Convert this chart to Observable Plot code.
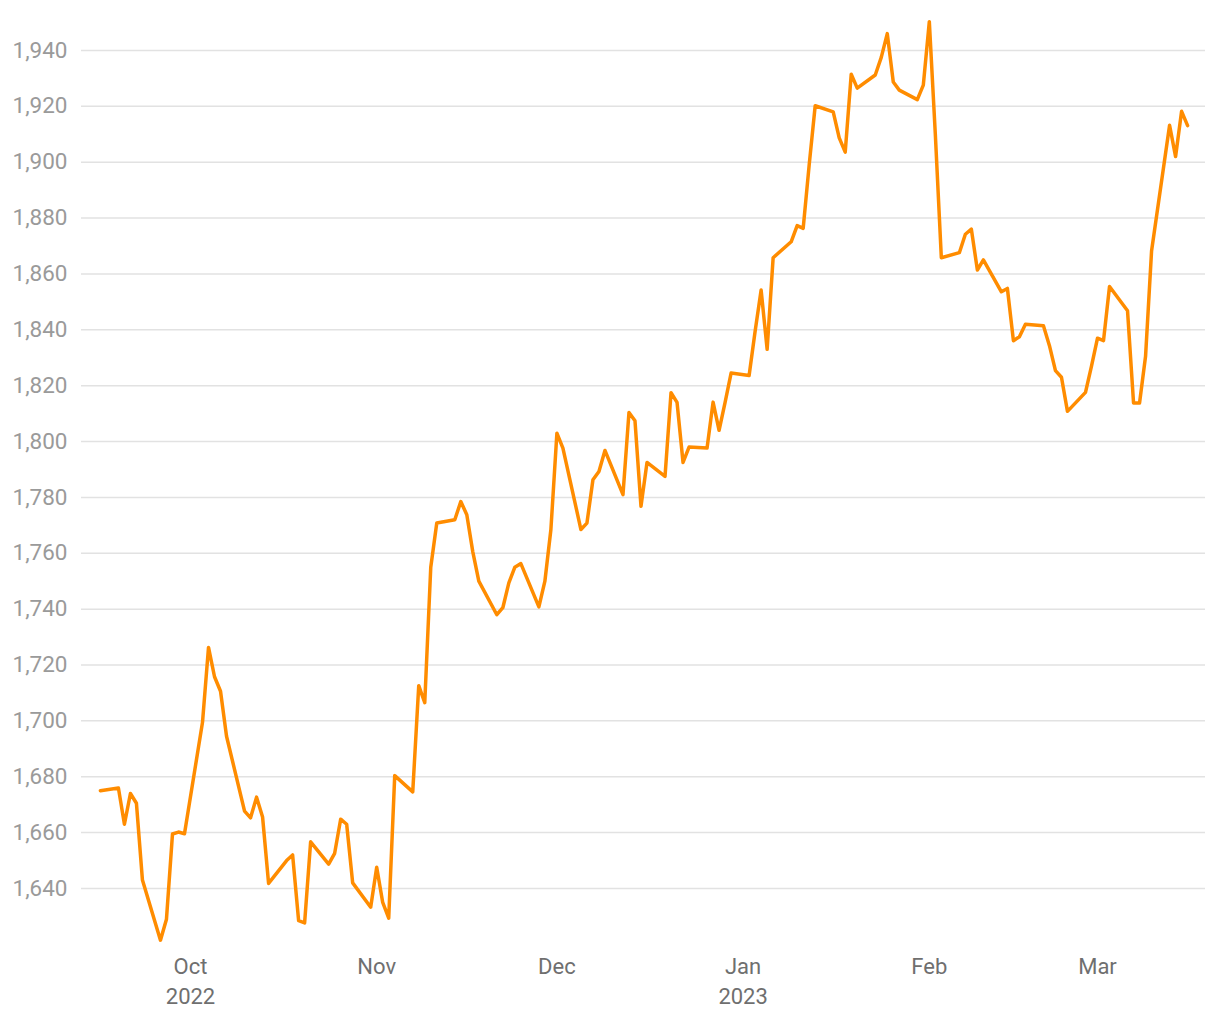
<!DOCTYPE html>
<html>
<head>
<meta charset="utf-8">
<script src="https://cdn.jsdelivr.net/npm/d3@7"></script>
<script src="https://cdn.jsdelivr.net/npm/@observablehq/plot@0.6"></script>
<style>
  html, body { margin: 0; padding: 0; background: #fff; }
  #chart svg { display: block; }
</style>
</head>
<body>
<div id="chart"></div>
<script>
const dates = [
  "2022-09-16","2022-09-19","2022-09-20","2022-09-21","2022-09-22","2022-09-23",
  "2022-09-26","2022-09-27","2022-09-28","2022-09-29","2022-09-30",
  "2022-10-03","2022-10-04","2022-10-05","2022-10-06","2022-10-07",
  "2022-10-10","2022-10-11","2022-10-12","2022-10-13","2022-10-14",
  "2022-10-17","2022-10-18","2022-10-19","2022-10-20","2022-10-21",
  "2022-10-24","2022-10-25","2022-10-26","2022-10-27","2022-10-28",
  "2022-10-31","2022-11-01","2022-11-02","2022-11-03","2022-11-04",
  "2022-11-07","2022-11-08","2022-11-09","2022-11-10","2022-11-11",
  "2022-11-14","2022-11-15","2022-11-16","2022-11-17","2022-11-18",
  "2022-11-21","2022-11-22","2022-11-23","2022-11-24","2022-11-25",
  "2022-11-28","2022-11-29","2022-11-30","2022-12-01","2022-12-02",
  "2022-12-05","2022-12-06","2022-12-07","2022-12-08","2022-12-09",
  "2022-12-12","2022-12-13","2022-12-14","2022-12-15","2022-12-16",
  "2022-12-19","2022-12-20","2022-12-21","2022-12-22","2022-12-23",
  "2022-12-26","2022-12-27","2022-12-28","2022-12-29","2022-12-30",
  "2023-01-02","2023-01-03","2023-01-04","2023-01-05","2023-01-06",
  "2023-01-09","2023-01-10","2023-01-11","2023-01-12","2023-01-13",
  "2023-01-16","2023-01-17","2023-01-18","2023-01-19","2023-01-20",
  "2023-01-23","2023-01-24","2023-01-25","2023-01-26","2023-01-27",
  "2023-01-30","2023-01-31","2023-02-01","2023-02-02","2023-02-03",
  "2023-02-06","2023-02-07","2023-02-08","2023-02-09","2023-02-10",
  "2023-02-13","2023-02-14","2023-02-15","2023-02-16","2023-02-17",
  "2023-02-20","2023-02-21","2023-02-22","2023-02-23","2023-02-24",
  "2023-02-27","2023-02-28","2023-03-01","2023-03-02","2023-03-03",
  "2023-03-06","2023-03-07","2023-03-08","2023-03-09","2023-03-10",
  "2023-03-13","2023-03-14","2023-03-15","2023-03-16"
];
const prices = [
  1675.0, 1676.0, 1663.0, 1674.0, 1670.5, 1643.0,
  1621.5, 1629.0, 1659.5, 1660.2, 1659.6,
  1699.5, 1726.3, 1715.8, 1710.6, 1694.5,
  1667.7, 1665.3, 1672.7, 1665.6, 1641.8,
  1650.0, 1652.0, 1628.5, 1627.7, 1656.7,
  1648.7, 1652.6, 1664.8, 1663.0, 1642.0,
  1633.3, 1647.6, 1635.0, 1629.4, 1680.4,
  1674.6, 1712.6, 1706.5, 1755.0, 1770.8,
  1772.0, 1778.5, 1773.8, 1760.5, 1750.0,
  1738.0, 1740.5, 1749.4, 1755.0, 1756.3,
  1740.8, 1750.0, 1768.5, 1803.0, 1797.6,
  1768.5, 1770.8, 1786.3, 1789.3, 1796.8,
  1781.0, 1810.4, 1807.4, 1776.8, 1792.5,
  1787.5, 1817.5, 1814.0, 1792.5, 1798.0,
  1797.7, 1814.1, 1804.0, 1814.0, 1824.5,
  1823.6, 1839.5, 1854.2, 1833.0, 1865.8,
  1871.5, 1877.3, 1876.3, 1899.0, 1920.2,
  1918.0, 1908.7, 1903.6, 1931.5, 1926.5,
  1931.2, 1937.5, 1946.0, 1928.7, 1925.8,
  1922.4, 1927.6, 1950.3, 1910.0, 1865.8,
  1867.6, 1874.2, 1876.0, 1861.4, 1865.0,
  1853.6, 1854.8, 1836.1, 1837.5, 1842.0,
  1841.4, 1834.3, 1825.4, 1823.0, 1810.8,
  1817.6, 1827.0, 1837.0, 1836.1, 1855.5,
  1846.8, 1813.8, 1813.8, 1830.5, 1868.2,
  1913.2, 1902.0, 1918.2, 1913.1
];
const yTicks = [1640, 1660, 1680, 1700, 1720, 1740, 1760, 1780, 1800, 1820, 1840, 1860, 1880, 1900, 1920, 1940];
const xTickDates = ["2022-10-01", "2022-11-01", "2022-12-01", "2023-01-01", "2023-02-01", "2023-03-01"];
const xTickLabels = ["Oct\n2022", "Nov", "Dec", "Jan\n2023", "Feb", "Mar"];
const xDomain = ["2022-09-12T20:30:00Z", "2023-03-18T23:30:00Z"];
const yDomain = [1617.8, 1952.5];

const data = dates.map((d, i) => ({date: new Date(d), price: prices[i]}));
const tickTimes = xTickDates.map(d => new Date(d));
const labelMap = new Map(tickTimes.map((d, i) => [+d, xTickLabels[i]]));

const chart = Plot.plot({
  width: 1220,
  height: 1020,
  marginLeft: 81,
  marginRight: 15,
  marginTop: 15,
  marginBottom: 70,
  style: {fontFamily: "Roboto", fontSize: "22px", background: "#fff"},
  x: {type: "utc", domain: xDomain.map(d => new Date(d))},
  y: {domain: yDomain},
  marks: [
    Plot.gridY(yTicks, {stroke: "#e2e2e2", strokeOpacity: 1, strokeWidth: 1.5}),
    Plot.axisY(yTicks, {tickSize: 0, tickPadding: 14, tickFormat: d3.format(","), fill: "#9a9a9a", fontSize: 22.5, label: null}),
    Plot.axisX(tickTimes, {tickSize: 0, tickPadding: 2, tickFormat: d => labelMap.get(+d), fill: "#6f6f6f", fontSize: 22, lineHeight: 1.36, label: null}),
    Plot.lineY(data, {x: "date", y: "price", stroke: "#ff8c00", strokeWidth: 3.5})
  ]
});
document.getElementById("chart").appendChild(chart);
</script>
</body>
</html>
